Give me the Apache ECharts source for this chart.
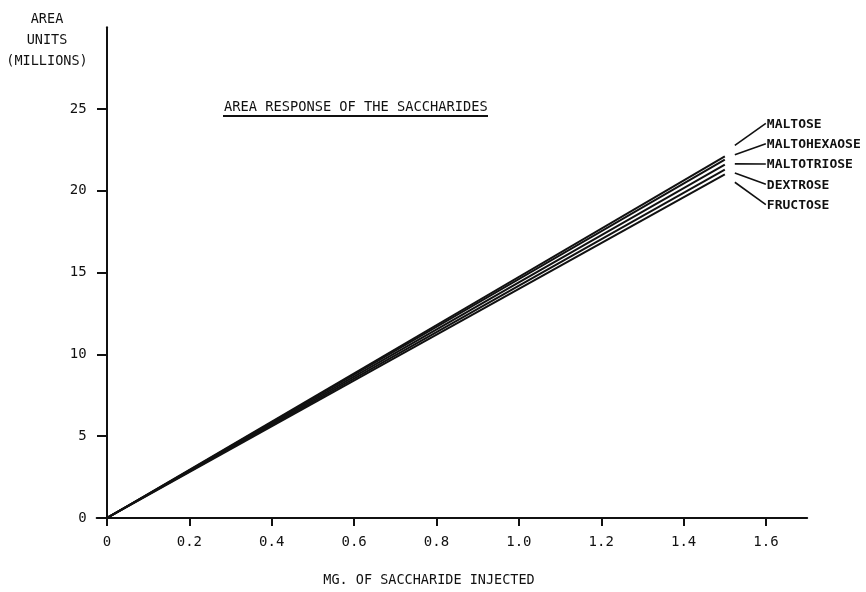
<!DOCTYPE html>
<html><head><meta charset="utf-8">
<script src="https://cdn.jsdelivr.net/npm/echarts@6/dist/echarts.min.js"></script>
<style>html,body{margin:0;padding:0;background:#fff}#c{width:866px;height:592px}</style>
</head><body><div id="c"></div>
<script>
// ---- data ----
const xValues = [0, 1.5];
const seriesNames = ['MALTOSE', 'MALTOHEXAOSE', 'MALTOTRIOSE', 'DEXTROSE', 'FRUCTOSE'];
const maltose = [0, 22.1];
const maltohexaose = [0, 21.9];
const maltotriose = [0, 21.6];
const dextrose = [0, 21.3];
const fructose = [0, 21.0];
const xTicks = [0, 0.2, 0.4, 0.6, 0.8, 1.0, 1.2, 1.4, 1.6];
const yTicks = [0, 5, 10, 15, 20, 25];
const chartTitle = 'AREA RESPONSE OF THE SACCHARIDES';
const xTitle = 'MG. OF SACCHARIDE INJECTED';
const yTitle = 'AREA\nUNITS\n(MILLIONS)';

// ---- chart ----
const FONT = '"DejaVu Sans Mono", monospace';
const INK = '#111';
const allSeries = [maltose, maltohexaose, maltotriose, dextrose, fructose];

const chart = echarts.init(document.getElementById('c'), null, {renderer: 'canvas'});
const option = {
  animation: false,
  backgroundColor: '#fff',
  grid: {left: 96.7, right: 58.8, top: 27.2, bottom: 69.1, containLabel: false},
  xAxis: {
    type: 'value', min: -0.025, max: 1.7,
    splitLine: {show: false},
    axisLine: {show: true, onZero: true, lineStyle: {color: INK, width: 2}},
    axisTick: {show: true, inside: false, length: 8, customValues: xTicks, lineStyle: {color: INK, width: 2}},
    axisLabel: {show: true, customValues: xTicks, margin: 12, fontFamily: FONT, fontSize: 14, color: INK,
      formatter: v => (v === 0 ? '0' : v.toFixed(1))},
    minorTick: {show: false}
  },
  yAxis: {
    type: 'value', min: -0.3, max: 30,
    splitLine: {show: false},
    axisLine: {show: true, onZero: true, lineStyle: {color: INK, width: 2}},
    axisTick: {show: true, inside: false, length: 10, customValues: yTicks, lineStyle: {color: INK, width: 2}},
    axisLabel: {show: true, customValues: yTicks, margin: 10, fontFamily: FONT, fontSize: 14, color: INK,
      formatter: v => String(v)}
  },
  series: seriesNames.map((name, i) => ({
    name: name, type: 'line',
    data: xValues.map((x, j) => [x, allSeries[i][j]]),
    showSymbol: false, symbol: 'none',
    lineStyle: {color: INK, width: 2},
    z: 3
  }))
};
chart.setOption(option);

function addAnnotations() {
  const top = chart.convertToPixel({gridIndex: 0}, [xValues[1], maltose[1]]);
  const elements = [];
  const labelX = top[0] + 42;
  seriesNames.forEach((name, i) => {
    const ly = top[1] - 32 + i * 20.3;
    const sy = top[1] - 11 + i * 9.2;
    elements.push({
      type: 'line', silent: true, z: 10,
      shape: {x1: top[0] + 10, y1: sy, x2: labelX - 1, y2: ly - 1},
      style: {stroke: INK, lineWidth: 1.6}
    });
    elements.push({
      type: 'text', silent: true, z: 10,
      x: labelX, y: ly,
      style: {text: name, font: 'bold 13px ' + FONT, fill: INK, textAlign: 'left', textVerticalAlign: 'middle'}
    });
  });
  // chart title with underline
  elements.push({
    type: 'text', silent: true, z: 10, x: 224, y: 107,
    style: {text: chartTitle, font: '13.7px ' + FONT, fill: INK, textAlign: 'left', textVerticalAlign: 'middle'}
  });
  elements.push({
    type: 'line', silent: true, z: 10,
    shape: {x1: 223, y1: 116, x2: 488, y2: 116},
    style: {stroke: INK, lineWidth: 2}
  });
  // axis titles
  elements.push({
    type: 'text', silent: true, z: 10, x: 47, y: 40,
    style: {text: yTitle, font: '13.5px ' + FONT, fill: INK, textAlign: 'center', textVerticalAlign: 'middle', lineHeight: 21}
  });
  elements.push({
    type: 'text', silent: true, z: 10, x: 429, y: 580,
    style: {text: xTitle, font: '13.5px ' + FONT, fill: INK, textAlign: 'center', textVerticalAlign: 'middle'}
  });
  chart.setOption({graphic: {elements: elements}});
}
addAnnotations();
</script>
</body></html>
